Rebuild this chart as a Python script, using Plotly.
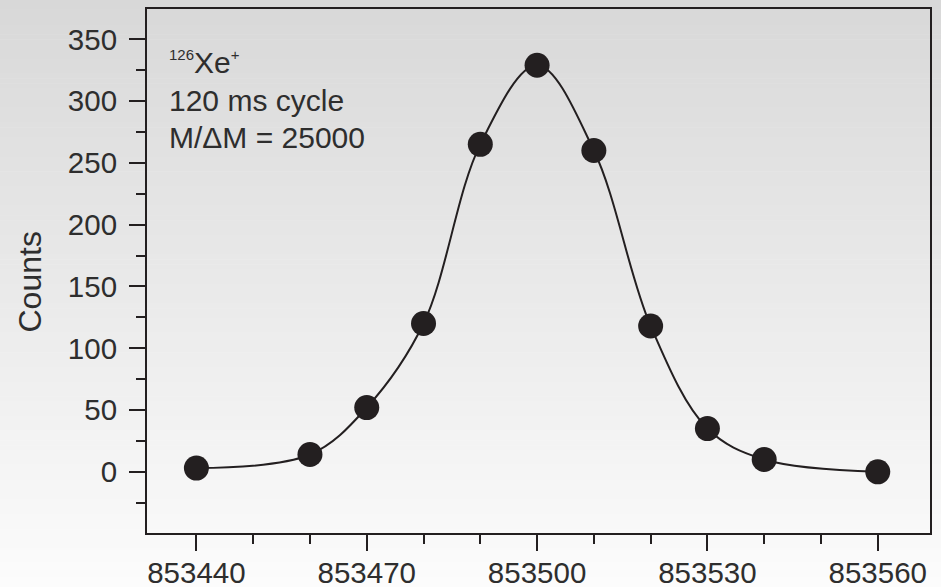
import plotly.graph_objects as go

# Data
mass = [853440, 853460, 853470, 853480, 853490, 853500, 853510, 853520, 853530, 853540, 853560]
counts = [3, 14, 52, 120, 265, 329, 260, 118, 35, 10, 0]

x_tickvals = [853440, 853470, 853500, 853530, 853560]
y_tickvals = [0, 50, 100, 150, 200, 250, 300, 350]

label_lines = [
    "<sup><span style='font-size:15px'>126</span></sup>Xe<sup><span style='font-size:15px'>+</span></sup>",
    "120 ms cycle",
    "M/\u0394M = 25000",
]

INK = "#231f20"
TXT = "#2e2e2e"
FONT = "Liberation Sans, Arial, sans-serif"

fig = go.Figure()

fig.add_trace(go.Scatter(
    x=mass, y=counts, mode="lines",
    line=dict(color=INK, width=2, shape="spline", smoothing=1.0),
    hoverinfo="skip", showlegend=False,
))
fig.add_trace(go.Scatter(
    x=mass, y=counts, mode="markers",
    marker=dict(color=INK, size=25, line=dict(width=0)),
    showlegend=False,
))

# vertical gray gradient background (paper coordinates)
W, H = 941, 587
ml, mr, mt, mb = 147, 11, 9, 54
pw, ph = W - ml - mr, H - mt - mb
n = 120
top_c, bot_c = 216, 252
shapes = []
for i in range(n):
    y0_px = H * i / n
    y1_px = H * (i + 1) / n + 0.6
    t = (i + 0.5) / n
    c = int(round(top_c + (bot_c - top_c) * t))
    shapes.append(dict(
        type="rect", xref="paper", yref="paper", layer="below",
        x0=-ml / pw - 0.01, x1=1 + mr / pw + 0.01,
        y0=1 - (y1_px - mt) / ph, y1=1 - (y0_px - mt) / ph,
        fillcolor=f"rgb({c},{c},{c})", line=dict(width=0),
    ))

line_tops_px = [44.2, 82.0, 119.0]
annotations = [
    dict(
        xref="paper", yref="paper", x=0.026, y=1 - (top - mt) / ph,
        xanchor="left", yanchor="top", align="left", showarrow=False,
        text=txt, font=dict(family=FONT, size=30, color=TXT),
    )
    for txt, top in zip(label_lines, line_tops_px)
]
annotations.append(dict(
    xref="paper", yref="paper", x=(29 - ml) / pw, y=1 - (282.5 - mt) / ph,
    xanchor="center", yanchor="middle", showarrow=False, textangle=-90,
    text="Counts", font=dict(family=FONT, size=32, color=TXT),
))

fig.update_layout(
    width=W, height=H,
    margin=dict(l=ml, r=mr, t=mt, b=mb, autoexpand=False),
    paper_bgcolor="white",
    plot_bgcolor="rgba(0,0,0,0)",
    shapes=shapes,
    font=dict(family=FONT, size=29, color=TXT),
    annotations=annotations,
)

fig.update_xaxes(
    range=[853431.3, 853569.2], automargin=False,
    tickvals=x_tickvals, ticktext=[str(v) for v in x_tickvals],
    ticks="outside", ticklen=16, tickwidth=2, tickcolor=INK,
    showline=True, linewidth=2, linecolor=INK, mirror=True,
    showgrid=False, zeroline=False,
    tickfont=dict(family=FONT, size=29.5, color=TXT),
    ticklabelstandoff=-3,
    minor=dict(dtick=10, tick0=853440, ticks="outside", ticklen=9, tickwidth=2, tickcolor=INK, showgrid=False),
)
fig.update_yaxes(
    range=[-49.5, 374.5], automargin=False,
    tickvals=y_tickvals, ticktext=[str(v) for v in y_tickvals],
    ticks="outside", ticklen=16, tickwidth=2, tickcolor=INK,
    showline=True, linewidth=2, linecolor=INK, mirror=True,
    showgrid=False, zeroline=False,
    tickfont=dict(family=FONT, size=29.5, color=TXT),
    ticklabelstandoff=6,
    minor=dict(dtick=25, tick0=0, ticks="outside", ticklen=9, tickwidth=2, tickcolor=INK, showgrid=False),
)

fig.write_html(
    "out.html",
    config={"displayModeBar": False},
    post_script="document.body.style.margin='0';document.body.style.overflow='hidden';",
)
